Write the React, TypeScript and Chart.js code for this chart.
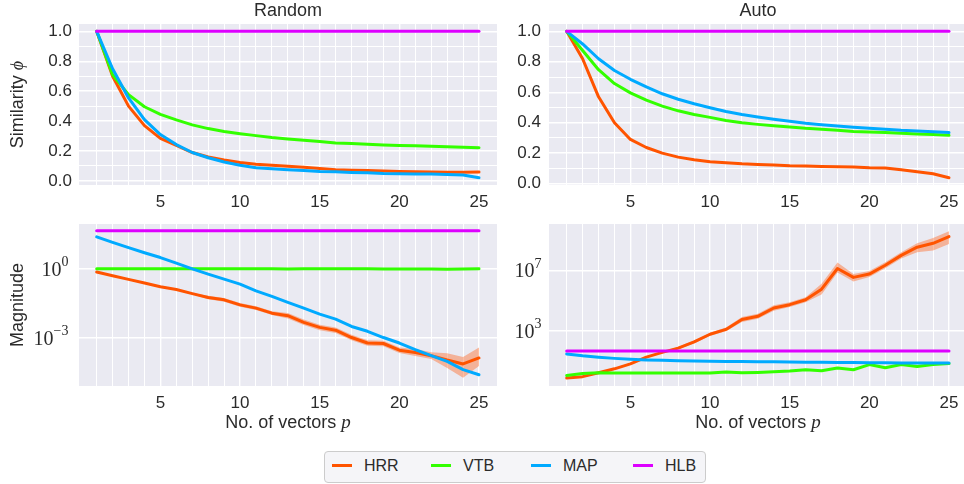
import React, { useEffect, useRef } from "react";
import { Chart, registerables } from "chart.js";

Chart.register(...registerables);

// ---------------- data ----------------
const steps = [1, 2, 3, 4, 5, 6, 7, 8, 9, 10, 11, 12, 13, 14, 15, 16, 17, 18, 19, 20, 21, 22, 23, 24, 25];
const xTickLabels = [5, 10, 15, 20, 25];
const simTicks = [0, 0.1, 0.2, 0.3, 0.4, 0.5, 0.6, 0.7, 0.8, 0.9, 1.0];
const magRandomTicks = [1e-3, 1];
const magAutoTicks = [1e3, 1e7];

// Random – similarity
const simRandomHRR = [1.0, 0.70, 0.50, 0.37, 0.285, 0.237, 0.19, 0.16, 0.14, 0.123, 0.112, 0.105, 0.099, 0.092, 0.083, 0.075, 0.072, 0.07, 0.066, 0.064, 0.062, 0.06, 0.059, 0.059, 0.06];
const simRandomVTB = [1.0, 0.71, 0.577, 0.496, 0.445, 0.408, 0.375, 0.35, 0.331, 0.316, 0.303, 0.29, 0.281, 0.272, 0.263, 0.254, 0.25, 0.246, 0.241, 0.237, 0.235, 0.232, 0.228, 0.226, 0.222];
const simRandomMAP = [1.0, 0.75, 0.555, 0.41, 0.31, 0.243, 0.19, 0.155, 0.127, 0.105, 0.088, 0.081, 0.075, 0.07, 0.064, 0.061, 0.057, 0.055, 0.05, 0.048, 0.046, 0.046, 0.044, 0.04, 0.022];
const simRandomHLB = [1, 1, 1, 1, 1, 1, 1, 1, 1, 1, 1, 1, 1, 1, 1, 1, 1, 1, 1, 1, 1, 1, 1, 1, 1];

// Auto – similarity
const simAutoHRR = [1.0, 0.82, 0.57, 0.40, 0.29, 0.237, 0.2, 0.174, 0.157, 0.143, 0.137, 0.13, 0.126, 0.122, 0.117, 0.115, 0.113, 0.111, 0.109, 0.104, 0.102, 0.091, 0.078, 0.065, 0.039];
const simAutoVTB = [1.0, 0.874, 0.748, 0.657, 0.596, 0.548, 0.509, 0.478, 0.454, 0.435, 0.415, 0.4, 0.389, 0.38, 0.372, 0.363, 0.357, 0.35, 0.343, 0.339, 0.335, 0.33, 0.326, 0.322, 0.317];
const simAutoMAP = [1.0, 0.917, 0.82, 0.743, 0.685, 0.635, 0.59, 0.554, 0.524, 0.498, 0.474, 0.454, 0.437, 0.422, 0.409, 0.396, 0.387, 0.378, 0.37, 0.363, 0.357, 0.35, 0.346, 0.341, 0.335];
const simAutoHLB = [1, 1, 1, 1, 1, 1, 1, 1, 1, 1, 1, 1, 1, 1, 1, 1, 1, 1, 1, 1, 1, 1, 1, 1, 1];

// Random – magnitude
const magRandomHRR = [0.724, 0.501, 0.347, 0.240, 0.166, 0.126, 0.0832, 0.0562, 0.0447, 0.0269, 0.0195, 0.01175, 0.00912, 0.00468, 0.00282, 0.00214, 0.00102, 5.89e-4, 5.62e-4, 2.88e-4, 2.29e-4, 1.66e-4, 1.07e-4, 7.24e-5, 1.32e-4];
const magRandomHRRUpper = [0.776, 0.537, 0.372, 0.257, 0.178, 0.135, 0.0891, 0.0676, 0.0537, 0.0324, 0.0234, 0.0141, 0.0120, 0.00617, 0.00372, 0.00282, 0.00135, 7.76e-4, 7.41e-4, 3.80e-4, 3.24e-4, 2.34e-4, 2.14e-4, 1.45e-4, 3.72e-4];
const magRandomHRRLower = [0.676, 0.468, 0.324, 0.224, 0.155, 0.1175, 0.0776, 0.0468, 0.0372, 0.0224, 0.0162, 0.00977, 0.00692, 0.00355, 0.00214, 0.00162, 7.76e-4, 4.47e-4, 4.27e-4, 2.19e-4, 1.62e-4, 1.175e-4, 4.79e-5, 1.82e-5, 5.89e-5];
const magRandomVTB = [1.0, 1.0, 1.0, 1.0, 1.0, 1.0, 1.0, 1.0, 1.0, 1.0, 1.0, 1.0, 0.99, 1.0, 1.0, 1.0, 1.0, 1.0, 0.98, 0.97, 0.99, 0.99, 0.96, 0.98, 1.0];
const magRandomMAP = [24.5, 14.1, 8.32, 5.01, 3.09, 1.78, 1.0, 0.589, 0.355, 0.214, 0.1096, 0.0631, 0.0347, 0.0195, 0.0107, 0.00646, 0.00309, 0.00191, 0.00102, 5.89e-4, 3.02e-4, 1.66e-4, 9.33e-5, 4.07e-5, 2.45e-5];
const magRandomHLB = [45, 45, 45, 45, 45, 45, 45, 45, 45, 45, 45, 45, 45, 45, 45, 45, 45, 45, 45, 45, 45, 45, 45, 45, 45];

// Auto – magnitude
const magAutoHRR = [0.724, 0.891, 1.62, 2.95, 6.31, 17.4, 36.3, 69.2, 178, 575, 1202, 5495, 8913, 31620, 52480, 112200, 562300, 1.32e7, 3.39e6, 5.62e6, 2.14e7, 9.77e7, 3.39e8, 6.17e8, 1.70e9];
const magAutoHRRUpper = [0.794, 1.0, 1.82, 3.31, 7.08, 20.0, 41.7, 81.3, 224, 724, 1585, 7943, 13180, 47860, 75860, 166000, 1.26e6, 3.24e7, 5.62e6, 8.91e6, 3.39e7, 1.55e8, 6.17e8, 1.38e9, 3.80e9];
const magAutoHRRLower = [0.661, 0.794, 1.45, 2.63, 5.62, 15.1, 31.6, 58.9, 141, 457, 912, 3802, 6026, 20890, 36310, 75860, 251200, 7.24e6, 1.78e6, 3.55e6, 1.35e7, 6.03e7, 1.58e8, 2.04e8, 5.62e8];
const magAutoVTB = [1.07, 1.45, 1.62, 1.55, 1.55, 1.55, 1.55, 1.55, 1.55, 1.55, 1.78, 1.62, 1.70, 1.86, 2.09, 2.57, 2.19, 3.31, 2.57, 5.62, 3.47, 5.62, 4.27, 5.62, 6.61];
const magAutoMAP = [28.2, 21.4, 17.4, 14.5, 12.6, 11.5, 10.7, 10.0, 9.55, 9.33, 9.12, 8.91, 8.71, 8.51, 8.32, 8.13, 7.94, 7.76, 7.59, 7.41, 7.41, 7.24, 7.08, 7.08, 7.08];
const magAutoHLB = [45, 45, 45, 45, 45, 45, 45, 45, 45, 45, 45, 45, 45, 45, 45, 45, 45, 45, 45, 45, 45, 45, 45, 45, 45];

const seriesNames = ["HRR", "VTB", "MAP", "HLB"];

// ---------------- style ----------------
const SANS = '"Liberation Sans", Arial, sans-serif';
const SERIF = '"Liberation Serif", "DejaVu Serif", serif';
const TEXT = "#2b2b2b";
const BG = "#EAEAF2";
const COLORS: Record<string, string> = { HRR: "#ff5400", VTB: "#33ff00", MAP: "#00aaff", HLB: "#dd00ff" };
const HRR_BAND = "rgba(255, 100, 30, 0.42)";

type Spec = {
  left: number; top: number; width: number; height: number;
  padTop: number; padRight: number; yWidth: number; xHeight: number;
  yType: "linear" | "logarithmic"; yMin: number; yMax: number; yTicks: number[];
  labelPad: number;
  series: number[][]; upper?: number[]; lower?: number[];
  decor: any;
};

const decorPlugin = {
  id: "decor",
  beforeDraw(chart: any) {
    const { ctx, chartArea: a } = chart;
    ctx.save();
    ctx.fillStyle = BG;
    ctx.fillRect(a.left, a.top, a.right - a.left, a.bottom - a.top);
    ctx.restore();
  },
  afterDraw(chart: any, _args: any, opts: any) {
    const { ctx, chartArea: a } = chart;
    ctx.save();
    ctx.fillStyle = TEXT;
    ctx.textBaseline = "middle";
    if (opts.title) {
      ctx.font = `18px ${SANS}`;
      ctx.textAlign = "center";
      ctx.fillText(opts.title, (a.left + a.right) / 2, a.top - 12.5);
    }
    if (opts.xTitle) {
      const main = "No. of vectors ";
      const v = "p";
      ctx.font = `18px ${SANS}`;
      const w1 = ctx.measureText(main).width;
      ctx.font = `italic 19px ${SERIF}`;
      const w2 = ctx.measureText(v).width;
      const cx = (a.left + a.right) / 2;
      const x = cx - (w1 + w2) / 2;
      const y = a.bottom + 37;
      ctx.textAlign = "left";
      ctx.font = `18px ${SANS}`;
      ctx.fillText(main, x, y);
      ctx.font = `italic 19px ${SERIF}`;
      ctx.fillText(v, x + w1, y);
    }
    if (opts.yTitle) {
      const [main, sym] = opts.yTitle;
      ctx.font = `18px ${SANS}`;
      const w1 = ctx.measureText(main).width;
      ctx.font = `italic 18px ${SERIF}`;
      const w2 = sym ? ctx.measureText(sym).width : 0;
      ctx.save();
      ctx.translate(opts.yTitleX, (a.top + a.bottom) / 2);
      ctx.rotate(-Math.PI / 2);
      ctx.textAlign = "left";
      const x0 = -(w1 + w2) / 2;
      ctx.font = `18px ${SANS}`;
      ctx.fillText(main, x0, 0);
      if (sym) {
        ctx.font = `italic 18px ${SERIF}`;
        ctx.fillText(sym, x0 + w1, 0);
      }
      ctx.restore();
    }
    if (opts.logLabels) {
      const scale = chart.scales.y;
      for (const t of scale.ticks) {
        const y = scale.getPixelForValue(t.value);
        const exp = Math.round(Math.log10(t.value));
        const expStr = exp < 0 ? "\u2212" + Math.abs(exp) : String(exp);
        ctx.font = `14px ${SERIF}`;
        const we = ctx.measureText(expStr).width;
        ctx.font = `20px ${SERIF}`;
        const wb = ctx.measureText("10").width;
        const right = a.left - opts.logGap;
        ctx.textAlign = "left";
        ctx.textBaseline = "alphabetic";
        ctx.fillText("10", right - we - wb, y + 7);
        ctx.font = `14px ${SERIF}`;
        ctx.fillText(expStr, right - we, y - 2.5);
      }
    }
    ctx.restore();
  },
};

function pts(arr: number[]) {
  return steps.map((x, i) => ({ x, y: arr[i] }));
}

function buildConfig(spec: Spec): any {
  const datasets: any[] = [];
  const orders = [3, 2, 1, 0];
  spec.series.forEach((arr, i) => {
    datasets.push({
      label: seriesNames[i],
      data: pts(arr),
      borderColor: COLORS[seriesNames[i]],
      backgroundColor: COLORS[seriesNames[i]],
      borderWidth: 3,
      pointRadius: 0,
      fill: false,
      tension: 0,
      order: orders[i],
      borderCapStyle: "round",
      borderJoinStyle: "round",
    });
  });
  if (spec.upper && spec.lower) {
    const idx = datasets.length;
    datasets.push({
      label: "HRR upper",
      data: pts(spec.upper),
      borderColor: "transparent",
      borderWidth: 0,
      backgroundColor: HRR_BAND,
      pointRadius: 0,
      fill: idx + 1,
      order: 5,
    });
    datasets.push({
      label: "HRR lower",
      data: pts(spec.lower),
      borderColor: "transparent",
      borderWidth: 0,
      pointRadius: 0,
      fill: false,
      order: 5,
    });
  }

  const gridBase = { color: "#ffffff", drawTicks: false };
  const yScale: any =
    spec.yType === "linear"
      ? {
          type: "linear",
          min: spec.yMin,
          max: spec.yMax,
          bounds: "data",
          afterBuildTicks: (s: any) => {
            s.ticks = spec.yTicks.map((v) => ({ value: v }));
          },
          afterFit: (s: any) => {
            s.width = spec.yWidth;
          },
          grid: { ...gridBase, lineWidth: (c: any) => (c.index % 2 === 0 ? 1.4 : 1) },
          border: { display: false },
          ticks: {
            padding: spec.labelPad,
            color: TEXT,
            font: { family: SANS, size: 17 },
            autoSkip: false,
            callback: (v: any, i: number) => (i % 2 === 0 ? Number(v).toFixed(1) : ""),
          },
        }
      : {
          type: "logarithmic",
          min: spec.yMin,
          max: spec.yMax,
          bounds: "data",
          afterBuildTicks: (s: any) => {
            s.ticks = spec.yTicks.map((v) => ({ value: v }));
          },
          afterFit: (s: any) => {
            s.width = spec.yWidth;
          },
          grid: { ...gridBase, lineWidth: 1.4 },
          border: { display: false },
          ticks: { display: false },
        };

  return {
    type: "line",
    data: { datasets },
    plugins: [decorPlugin],
    options: {
      animation: false,
      responsive: false,
      devicePixelRatio: 1,
      events: [],
      layout: { padding: { top: spec.padTop, right: spec.padRight, left: 0, bottom: 0 } },
      plugins: {
        legend: { display: false },
        tooltip: { enabled: false },
        decor: spec.decor,
      },
      scales: {
        x: {
          type: "linear",
          min: -0.11,
          max: 26.13,
          bounds: "data",
          afterBuildTicks: (s: any) => {
            s.ticks = steps.map((v) => ({ value: v }));
          },
          afterFit: (s: any) => {
            s.height = spec.xHeight;
          },
          grid: { ...gridBase, lineWidth: (c: any) => (c.tick && xTickLabels.includes(c.tick.value) ? 1.4 : 1) },
          border: { display: false },
          ticks: {
            autoSkip: false,
            maxRotation: 0,
            minRotation: 0,
            padding: 7,
            color: TEXT,
            font: { family: SANS, size: 17 },
            callback: (v: any) => (xTickLabels.includes(Number(v)) ? String(v) : ""),
          },
        },
        y: yScale,
      },
    },
  };
}

function Panel({ spec }: { spec: Spec }) {
  const ref = useRef<HTMLCanvasElement | null>(null);
  useEffect(() => {
    if (!ref.current) return;
    const chart = new Chart(ref.current, buildConfig(spec));
    return () => chart.destroy();
  }, []);
  return (
    <canvas
      ref={ref}
      width={spec.width}
      height={spec.height}
      style={{ position: "absolute", left: spec.left, top: spec.top, width: spec.width, height: spec.height }}
    />
  );
}

const panels: Spec[] = [
  {
    left: 0, top: 0, width: 500, height: 220, padTop: 24, padRight: 3, yWidth: 79, xHeight: 35,
    yType: "linear", yMin: -0.027, yMax: 1.049, yTicks: simTicks, labelPad: 7,
    series: [simRandomHRR, simRandomVTB, simRandomMAP, simRandomHLB],
    decor: { title: "Random", yTitle: ["Similarity ", "\u03D5"], yTitleX: 18 },
  },
  {
    left: 497, top: 0, width: 470, height: 220, padTop: 24, padRight: 0, yWidth: 52, xHeight: 35,
    yType: "linear", yMin: -0.009, yMax: 1.048, yTicks: simTicks, labelPad: 8,
    series: [simAutoHRR, simAutoVTB, simAutoMAP, simAutoHLB],
    decor: { title: "Auto" },
  },
  {
    left: 0, top: 205, width: 500, height: 235, padTop: 19, padRight: 3, yWidth: 79, xHeight: 54,
    yType: "logarithmic", yMin: 7.94e-6, yMax: 89.1, yTicks: magRandomTicks, labelPad: 0,
    series: [magRandomHRR, magRandomVTB, magRandomMAP, magRandomHLB],
    upper: magRandomHRRUpper, lower: magRandomHRRLower,
    decor: { yTitle: ["Magnitude", ""], yTitleX: 18, xTitle: true, logLabels: true, logGap: 10.5 },
  },
  {
    left: 497, top: 205, width: 470, height: 235, padTop: 19, padRight: 0, yWidth: 52, xHeight: 54,
    yType: "logarithmic", yMin: 0.214, yMax: 1.17e10, yTicks: magAutoTicks, labelPad: 0,
    series: [magAutoHRR, magAutoVTB, magAutoMAP, magAutoHLB],
    upper: magAutoHRRUpper, lower: magAutoHRRLower,
    decor: { xTitle: true, logLabels: true, logGap: 7.5 },
  },
];

const legendLineX = [332, 431, 531, 633];
const legendTextX = [364, 463, 563, 665];

function Legend() {
  return (
    <div>
      <div
        style={{
          position: "absolute",
          left: 324,
          top: 451,
          width: 382,
          height: 32,
          boxSizing: "border-box",
          border: "1px solid #cccccc",
          borderRadius: 4,
          background: "#f5f5f8",
        }}
      />
      {seriesNames.map((name, i) => (
        <React.Fragment key={name}>
          <div
            style={{
              position: "absolute",
              left: legendLineX[i],
              top: 464,
              width: 20,
              height: 3,
              background: COLORS[name],
            }}
          />
          <div
            style={{
              position: "absolute",
              left: legendTextX[i],
              top: 456,
              height: 20,
              lineHeight: "20px",
              fontFamily: SANS,
              fontSize: 16,
              color: TEXT,
            }}
          >
            {name}
          </div>
        </React.Fragment>
      ))}
    </div>
  );
}

export default function App() {
  return (
    <div
      style={{
        position: "absolute",
        left: 0,
        top: 0,
        width: 964,
        height: 484,
        overflow: "hidden",
        background: "#ffffff",
      }}
    >
      {panels.map((p, i) => (
        <Panel key={i} spec={p} />
      ))}
      <Legend />
    </div>
  );
}
